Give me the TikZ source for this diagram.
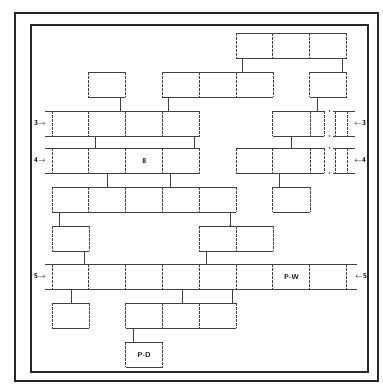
\documentclass[tikz,border=0pt]{standalone}
\usetikzlibrary{calc}

\tikzset{
	cell/.style={minimum width=36.8pt, minimum height=25pt, inner sep=0pt, anchor=north west},
	rowline/.style={black!75, line width=1pt},
	divline/.style={black!75, line width=0.9pt, dash pattern=on 3pt off 1pt},
	link/.style={black!75, line width=0.9pt},
	tag/.style={font=\scriptsize\sffamily\bfseries, inner sep=1pt},
	frame/.style={black!85, line width=1.5pt}
}

% a row of #4 cells named #1-1 ... #1-#4, top left corner at (#2,#3)
\newcommand{\cellrow}[4]{
	\foreach \k in {1,...,#4} {
		\node[cell] (#1-\k) at ({#2+(\k-1)*36.8},#3) {};
		\draw[divline] (#1-\k.north west) -- (#1-\k.south west);
	}
	\draw[divline] (#1-#4.north east) -- (#1-#4.south east);
	\draw[rowline] (#1-1.north west) -- (#1-#4.north east);
	\draw[rowline] (#1-1.south west) -- (#1-#4.south east);
}

% vertical connector: from anchor #1 shifted by #2, down to anchor #3
\newcommand{\link}[3]{
	\draw[link] ([xshift=#2pt]#1) coordinate (lk) -- (lk |- #3);
}

\begin{document}
\begin{tikzpicture}[x=1pt, y=-1pt]
	\useasboundingbox (0,0) rectangle (383,384);
	% double frame
	\draw[frame] (15,13) rectangle (378,381);
	\draw[frame] (31,25) rectangle (368,372);

	% first two levels
	\cellrow{topbox}{236}{33}{3}
	\cellrow{loneB}{88}{72}{1}
	\cellrow{midrow}{162.4}{72}{3}
	\cellrow{loneR}{309.6}{72}{1}

	% level 3
	\cellrow{rowC}{52}{111}{4}
	\draw[rowline] (rowC-1.north west) -- ++(-7,0);
	\draw[rowline] (rowC-1.south west) -- ++(-7,0);
	\node[tag] (tagCl) at (40,123.5) {3$\rightarrow$};
	\cellrow{rowCr}{272.8}{111}{1}
	\draw[rowline] (rowCr-1.north east) -- ++(14,0);
	\draw[rowline] (rowCr-1.south east) -- ++(14,0);
	\draw[divline] ([xshift=14pt]rowCr-1.north east) -- ([xshift=14pt]rowCr-1.south east);
	\node[cell, minimum width=12pt] (tailC) at (335,111) {};
	\draw[divline] (tailC.north west) -- (tailC.south west);
	\draw[divline] (tailC.north east) -- (tailC.south east);
	\draw[rowline] ([xshift=-2pt]tailC.north west) -- ([xshift=8pt]tailC.north east);
	\draw[rowline] ([xshift=-2pt]tailC.south west) -- ([xshift=8pt]tailC.south east);
	\fill[black!75] (329.5,111) circle (0.8) (329.5,136) circle (0.8);
	\node[tag] (tagCr) at (360,123.5) {$\leftarrow$3};

	% level 4
	\cellrow{rowD}{52}{148}{4}
	\draw[rowline] (rowD-1.north west) -- ++(-7,0);
	\draw[rowline] (rowD-1.south west) -- ++(-7,0);
	\node[tag] (tagDl) at (40,160.5) {4$\rightarrow$};
	\node[tag] (eight) at (rowD-3) {8};
	\cellrow{rowDr}{236}{148}{2}
	\draw[rowline] (rowDr-2.north east) -- ++(14,0);
	\draw[rowline] (rowDr-2.south east) -- ++(14,0);
	\draw[divline] ([xshift=14pt]rowDr-2.north east) -- ([xshift=14pt]rowDr-2.south east);
	\node[cell, minimum width=12pt] (tailD) at (335,148) {};
	\draw[divline] (tailD.north west) -- (tailD.south west);
	\draw[divline] (tailD.north east) -- (tailD.south east);
	\draw[rowline] ([xshift=-2pt]tailD.north west) -- ([xshift=8pt]tailD.north east);
	\draw[rowline] ([xshift=-2pt]tailD.south west) -- ([xshift=8pt]tailD.south east);
	\fill[black!75] (329.5,148) circle (0.8) (329.5,173) circle (0.8);
	\node[tag] (tagDr) at (360,160.5) {$\leftarrow$4};

	% middle levels
	\cellrow{rowE}{52}{187}{5}
	\cellrow{loneE}{272.8}{187}{1}
	\cellrow{loneF}{52}{226}{1}
	\cellrow{rowF}{199.2}{226}{2}

	% level 5
	\cellrow{rowG}{52}{264}{8}
	\draw[rowline] (rowG-1.north west) -- ++(-7,0);
	\draw[rowline] (rowG-1.south west) -- ++(-7,0);
	\draw[rowline] (rowG-8.north east) -- ++(10,0);
	\draw[rowline] (rowG-8.south east) -- ++(10,0);
	\node[tag] (tagGl) at (40,276.5) {5$\rightarrow$};
	\node[tag] (tagGr) at (361,276.5) {$\leftarrow$5};
	\node[tag] (pw) at (rowG-7) {P-W};

	% bottom levels
	\cellrow{loneH}{52}{303}{1}
	\cellrow{rowH}{125.6}{303}{3}
	\cellrow{boxPD}{125.6}{342}{1}
	\node[tag] (pd) at (boxPD-1) {P-D};

	% connectors
	\link{topbox-1.south west}{6}{midrow-1.north}
	\link{topbox-3.south east}{-4.4}{loneR-1.north}
	\link{loneB-1.south east}{-4.8}{rowC-1.north}
	\link{midrow-1.south west}{5.6}{rowC-1.north}
	\link{loneR-1.south west}{7.4}{rowCr-1.north}
	\link{rowC-2.south west}{7}{rowD-1.north}
	\link{rowC-4.south east}{-5}{rowD-1.north}
	\link{rowCr-1.south west}{19}{rowDr-1.north}
	\link{rowD-2.south west}{19}{rowE-1.north}
	\link{rowD-4.south west}{8}{rowE-1.north}
	\link{rowDr-2.south west}{7}{loneE-1.north}
	\link{rowE-1.south west}{7}{loneF-1.north}
	\link{rowE-5.south east}{-6}{rowF-1.north}
	\fill[black!75] ([xshift=-6pt]rowE-5.south east |- rowF-1.north) circle (1.2);
	\link{loneF-1.south east}{-5}{rowG-1.north}
	\link{rowF-1.south west}{7}{rowG-1.north}
	\link{rowG-1.south west}{19}{loneH-1.north}
	\link{rowG-4.south west}{19.6}{rowH-1.north}
	\link{rowG-5.south east}{-4}{rowH-1.north}
	\link{rowH-1.south west}{8}{boxPD-1.north}
\end{tikzpicture}
\end{document}
